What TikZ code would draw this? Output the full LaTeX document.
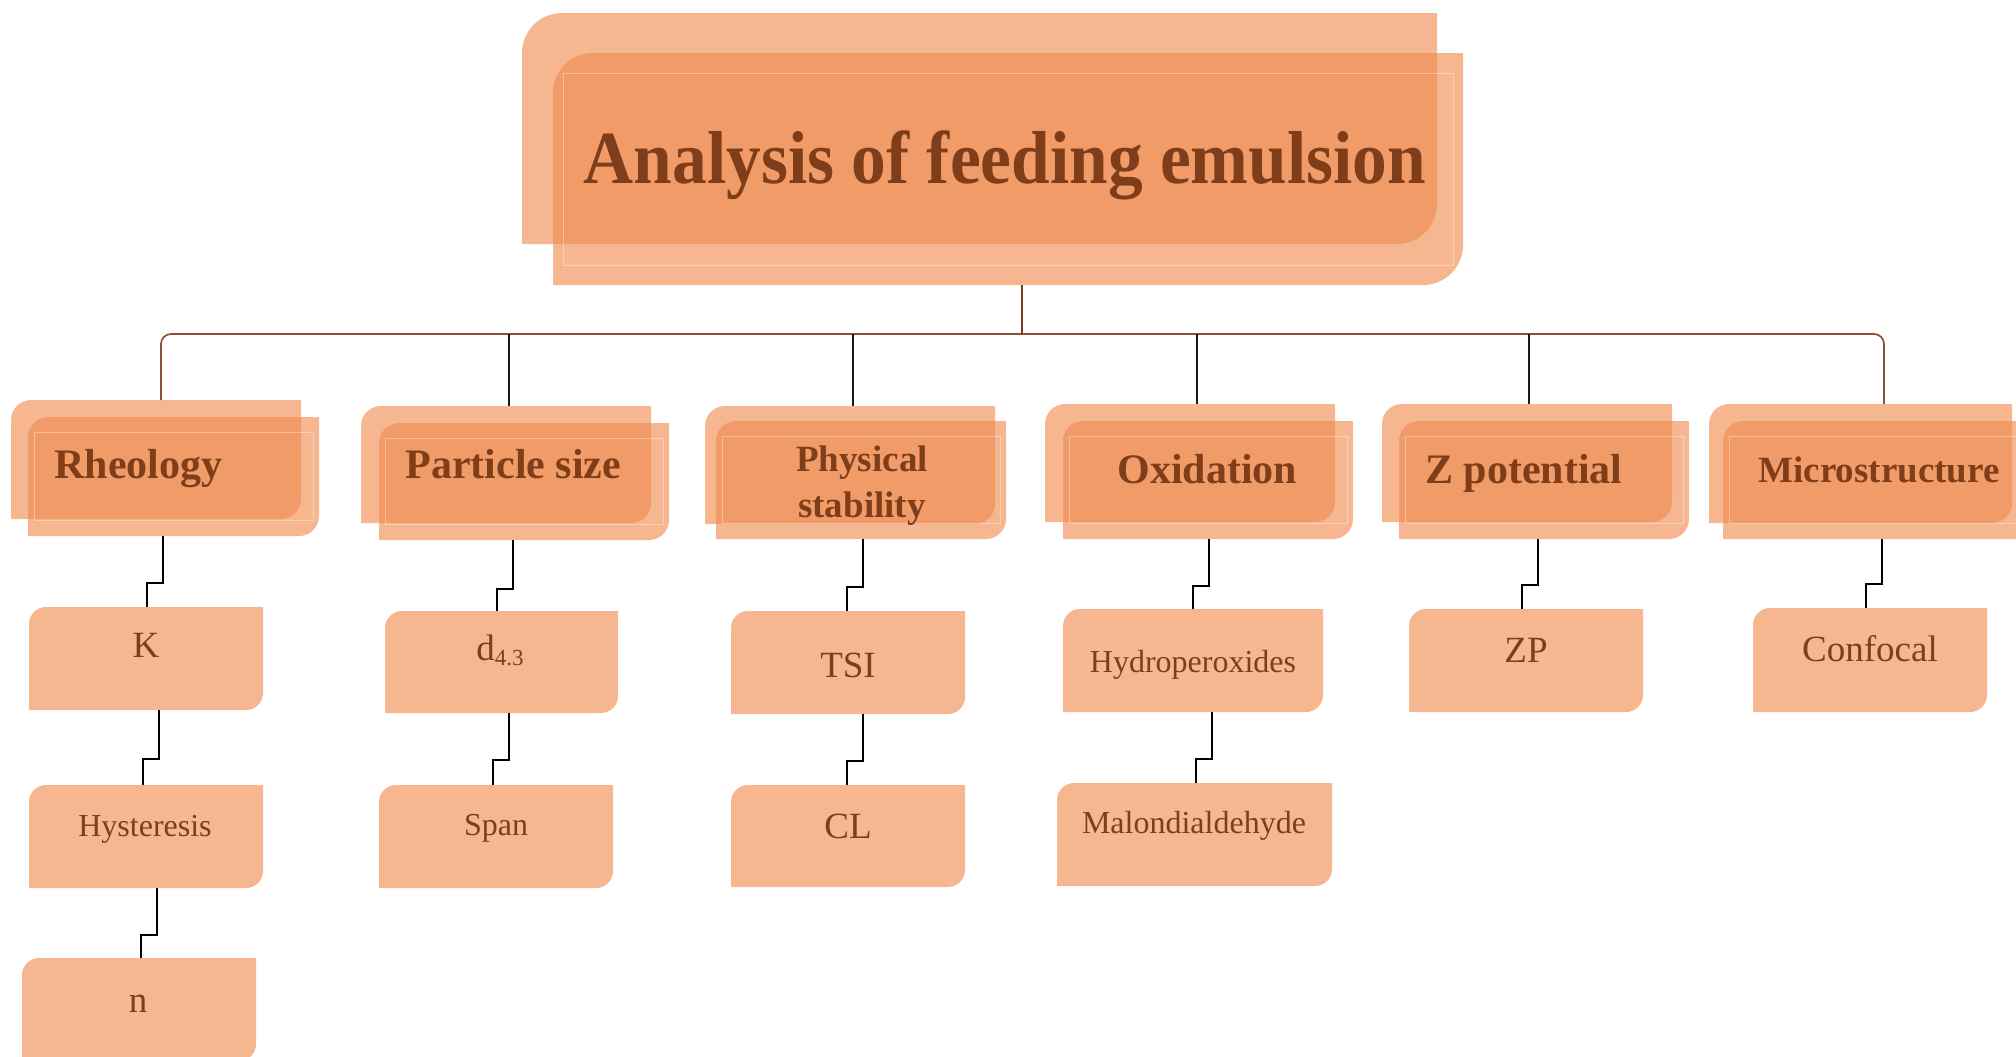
\documentclass[tikz,border=0pt]{standalone}
\usepackage{fontspec}
\setmainfont{Liberation Serif}
\usepackage{graphicx}
\usetikzlibrary{calc}
\definecolor{accent}{RGB}{239,141,82}
\definecolor{lightbox}{RGB}{245,182,144}
\definecolor{txt}{RGB}{127,62,25}
\definecolor{busc}{RGB}{140,80,50}
\definecolor{tdropc}{RGB}{124,58,22}
\begin{document}
\begin{tikzpicture}[x=0.5pt,y=0.5pt,
  bx/.style 2 args={anchor=north west, inner sep=0pt, outer sep=0pt, minimum width=#1*0.5pt, minimum height=#2*0.5pt},
  nwse/.style 2 args={insert path={(#1.south west) -- ([yshift=-#2]#1.north west) arc[start angle=180,end angle=90,radius=#2] -- (#1.north east) -- ([yshift=#2]#1.south east) arc[start angle=0,end angle=-90,radius=#2] -- cycle}},
  cfill/.style={fill=accent, fill opacity=0.64},
  sfill/.style={fill=lightbox},
  innerline/.style={draw=white, draw opacity=0.35, line width=0.4pt},
  ttl/.style={font=\fontsize{37.5pt}{40pt}\selectfont\bfseries, text=txt, inner sep=0pt, anchor=base},
  cat/.style={font=\fontsize{21pt}{24pt}\selectfont\bfseries, text=txt, inner sep=0pt, anchor=base west},
  catsm/.style={font=\fontsize{18.5pt}{22pt}\selectfont\bfseries, text=txt, inner sep=0pt, anchor=base},
  lbl/.style={font=\fontsize{18.5pt}{22pt}\selectfont, text=txt, inner sep=0pt, anchor=base},
  lblsm/.style={font=\fontsize{16pt}{19pt}\selectfont, text=txt, inner sep=0pt, anchor=base},
  bus/.style={draw=busc, line width=0.85pt},
  tdrop/.style={draw=tdropc, line width=1.1pt},
  drop/.style={draw=black!90, line width=1.3pt},
  stepline/.style={draw=black, line width=0.7pt},
]
\useasboundingbox (0,0) rectangle (2016,-1056);

% title
\node[bx={915}{231}] (tB) at (522,-13) {};
\node[bx={910}{232}] (tF) at (553,-53) {};
\fill[cfill, nwse={tB}{20pt}];
\fill[cfill, nwse={tF}{20pt}];
\draw[innerline] ([xshift=5pt,yshift=-10pt]tF.north west) rectangle ([xshift=-5pt,yshift=10pt]tF.south east);
\node[ttl] (tT) at (1005,-183) {\scalebox{0.925}[1]{Analysis of feeding emulsion}};

% category boxes
\node[bx={290}{119}] (rhB) at (11,-400) {};
\node[bx={291}{119}] (rhF) at (28,-417) {};
\node[bx={290}{117}] (paB) at (361,-406) {};
\node[bx={290}{117}] (paF) at (379,-423) {};
\node[bx={290}{118}] (psB) at (705,-406) {};
\node[bx={290}{118}] (psF) at (716,-421) {};
\node[bx={290}{118}] (oxB) at (1045,-404) {};
\node[bx={290}{118}] (oxF) at (1063,-421) {};
\node[bx={290}{118}] (zpB) at (1382,-404) {};
\node[bx={290}{118}] (zpF) at (1399,-421) {};
\node[bx={303}{119}] (miB) at (1709,-404) {};
\node[bx={330}{118}] (miF) at (1723,-421) {};
\foreach \n in {rhB,rhF,paB,paF,psB,psF,oxB,oxF,zpB,zpF,miB,miF}
  \fill[cfill, nwse={\n}{10pt}];
\foreach \n in {rhF,paF,psF,oxF,zpF,miF}
  \draw[innerline] ([xshift=3pt,yshift=-7.5pt]\n.north west) rectangle ([xshift=-3pt,yshift=8pt]\n.south east);

\node[cat] (rhT) at (54,-478) {Rheology};
\node[cat] (paT) at (405,-478) {Particle size};
\node[catsm] (psT1) at (862,-471) {Physical};
\node[catsm] (psT2) at (862,-517) {stability};
\node[cat] (oxT) at (1117,-483) {Oxidation};
\node[cat] (zpT) at (1425,-483) {Z potential};
\node[catsm, anchor=base west] (miT) at (1758,-482) {Microstructure};

% sub boxes
\node[bx={234}{103}] (k) at (29,-607) {};
\node[bx={234}{103}] (hy) at (29,-785) {};
\node[bx={234}{103}] (nn) at (22,-958) {};
\node[bx={233}{102}] (d43) at (385,-611) {};
\node[bx={234}{103}] (sp) at (379,-785) {};
\node[bx={234}{103}] (tsi) at (731,-611) {};
\node[bx={234}{102}] (cl) at (731,-785) {};
\node[bx={260}{103}] (hp) at (1063,-609) {};
\node[bx={275}{103}] (ma) at (1057,-783) {};
\node[bx={234}{103}] (zp) at (1409,-609) {};
\node[bx={234}{104}] (cf) at (1753,-608) {};
\foreach \n in {k,hy,nn,d43,sp,tsi,cl,hp,ma,zp,cf}
  \fill[sfill, nwse={\n}{8.5pt}];

\node[lbl] (kT) at (146,-657) {K};
\node[lblsm] (hyT) at (145,-836) {Hysteresis};
\node[lbl] (nT) at (138,-1012) {n};
\node[lbl] (d43T) at (500,-660) {d{\fontsize{11.5pt}{13pt}\selectfont\raisebox{-2.5pt}{4.3}}};
\node[lblsm] (spT) at (496,-835) {Span};
\node[lbl] (tsiT) at (848,-677) {TSI};
\node[lbl] (clT) at (848,-838) {CL};
\node[lblsm] (hpT) at (1193,-672) {Hydroperoxides};
\node[lblsm] (maT) at (1194,-833) {Malondialdehyde};
\node[lbl] (zpT2) at (1526,-662) {ZP};
\node[lbl] (cfT) at (1870,-661) {Confocal};

% connectors
\coordinate (busY) at (0,-334);
\draw[bus, rounded corners=5pt] (161,0 |- rhB.north) -- (161,0 |- busY) -- (1884,0 |- busY) -- (1884,0 |- miB.north);
\draw[tdrop] (1022,0 |- tF.south) -- (1022,0 |- busY);
\foreach \x/\n in {509/paB,853/psB,1197/oxB,1529/zpB}
  \draw[drop] (\x,0 |- busY) -- (\x,0 |- \n.north);
\foreach \a/\b/\xa/\xb/\y in {rhF/k/163/147/583, k/hy/159/143/759, hy/nn/157/141/935,
    paF/d43/513/497/589, d43/sp/509/493/760, psF/tsi/863/847/587, tsi/cl/863/847/761,
    oxF/hp/1209/1193/586, hp/ma/1212/1196/759, zpF/zp/1538/1522/585, miF/cf/1882/1866/584}
  \draw[stepline] (\xa,0 |- \a.south) |- (\xb,-\y) -- (\xb,0 |- \b.north);
\end{tikzpicture}
\end{document}
